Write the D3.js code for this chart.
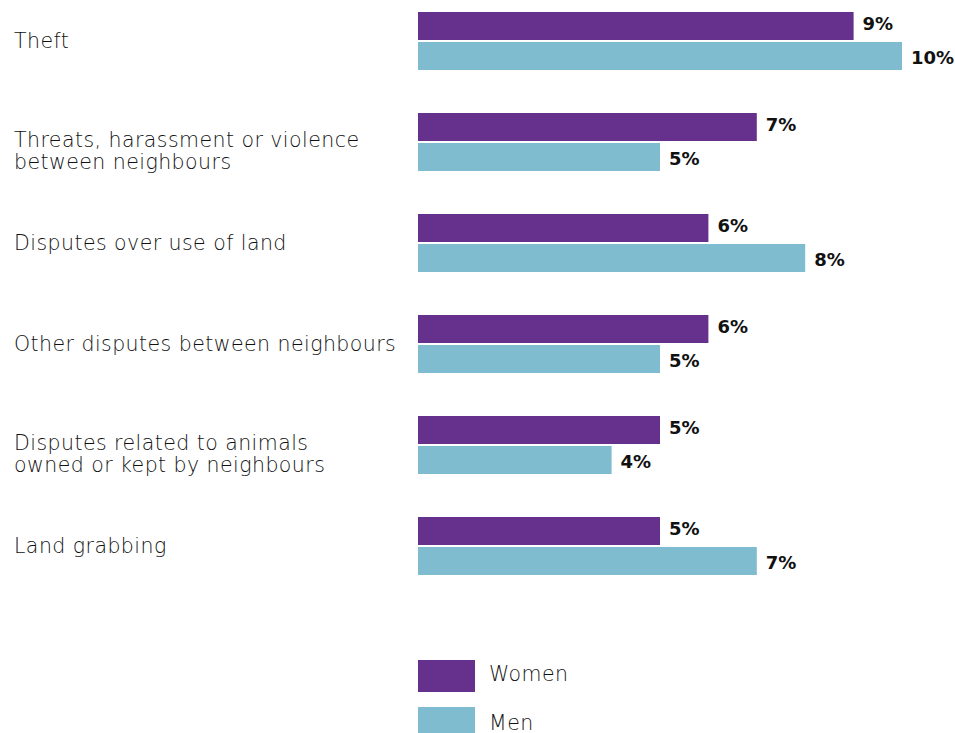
<!DOCTYPE html>
<html>
<head>
<meta charset="utf-8">
<script src="https://d3js.org/d3.v7.min.js"></script>
<style>
  body { margin: 0; background: #fff; }
  #chart-holder { width: 955px; height: 733px; }
</style>
</head>
<body>
<div id="chart-holder"></div>
<script>
const width = 955;
const height = 733;

// Data
const categories = [
  ["Theft"],
  ["Threats, harassment or violence", "between neighbours"],
  ["Disputes over use of land"],
  ["Other disputes between neighbours"],
  ["Disputes related to animals", "owned or kept by neighbours"],
  ["Land grabbing"]
];
const series = ["Women", "Men"];
const women = [9, 7, 6, 6, 5, 5];
const men = [10, 5, 8, 5, 4, 7];
const colors = ["#66318c", "#7fbccf"];

var labelFont = "'DejaVu Sans', sans-serif";

var svg = d3.select("#chart-holder")
  .append("svg")
  .attr("width", width)
  .attr("height", height);

var keys = categories.map(function(c, i) { return i; });

// Group and bar scales
var y = d3.scaleBand()
  .domain(keys)
  .range([12, 575])
  .paddingInner(43 / 101)
  .paddingOuter(0);

var ySub = d3.scaleBand()
  .domain(series)
  .range([0, y.bandwidth()])
  .paddingInner(2 / 30)
  .paddingOuter(0);

var x = d3.scaleLinear()
  .domain([0, 10])
  .range([418, 902]);

var color = d3.scaleOrdinal().domain(series).range(colors);

var rows = keys.map(function(i) {
  return { key: i, label: categories[i], values: [
    { s: "Women", v: women[i] },
    { s: "Men", v: men[i] }
  ]};
});

var groups = svg.append("g")
  .selectAll("g")
  .data(rows)
  .enter()
  .append("g")
    .attr("transform", function(d) { return "translate(0," + y(d.key) + ")"; });

// category labels (two-line labels start just below the centre)
groups.append("text")
  .attr("x", 14)
  .attr("y", y.bandwidth() / 2)
  .style("font-family", labelFont)
  .style("font-weight", 200)
  .style("font-size", "20.5px")
  .style("letter-spacing", "0.45px")
  .style("fill", "#111")
  .each(function(d) {
    var t = d3.select(this);
    var n = d.label.length;
    d.label.forEach(function(line, j) {
      t.append("tspan")
        .attr("x", 14)
        .attr("dy", j === 0 ? (n > 1 ? "5px" : "6.5px") : "22px")
        .text(line);
    });
  });

// bars
groups.selectAll("rect")
  .data(function(d) { return d.values; })
  .enter()
  .append("rect")
    .attr("x", x(0))
    .attr("y", function(d) { return ySub(d.s); })
    .attr("width", function(d) { return x(d.v) - x(0); })
    .attr("height", ySub.bandwidth())
    .attr("fill", function(d) { return color(d.s); });

// value labels
groups.selectAll("text.val")
  .data(function(d) { return d.values; })
  .enter()
  .append("text")
    .attr("class", "val")
    .attr("x", function(d) { return x(d.v) + 9; })
    .attr("y", function(d) { return ySub(d.s) + ySub.bandwidth() / 2 + (d.s === "Women" ? -2 : 1.5); })
    .attr("dy", "0.35em")
    .style("font-family", "'DejaVu Sans', sans-serif")
    .style("font-weight", 700)
    .style("font-size", "18px")
    .style("fill", "#111")
    .text(function(d) { return d.v + "%"; });

// legend
var legend = svg.append("g")
  .selectAll("g")
  .data(series)
  .enter()
  .append("g")
    .attr("transform", function(d, i) { return "translate(418," + (660 + i * 47) + ")"; });

legend.append("rect")
  .attr("width", 57)
  .attr("height", 32)
  .attr("fill", function(d) { return color(d); });

legend.append("text")
  .attr("x", 71)
  .attr("y", function(d, i) { return 14 + i * 2; })
  .attr("dy", "0.35em")
  .style("font-family", labelFont)
  .style("font-weight", 200)
  .style("font-size", "20.5px")
  .style("letter-spacing", "0.45px")
  .style("fill", "#111")
  .text(function(d) { return d; });
</script>
</body>
</html>
